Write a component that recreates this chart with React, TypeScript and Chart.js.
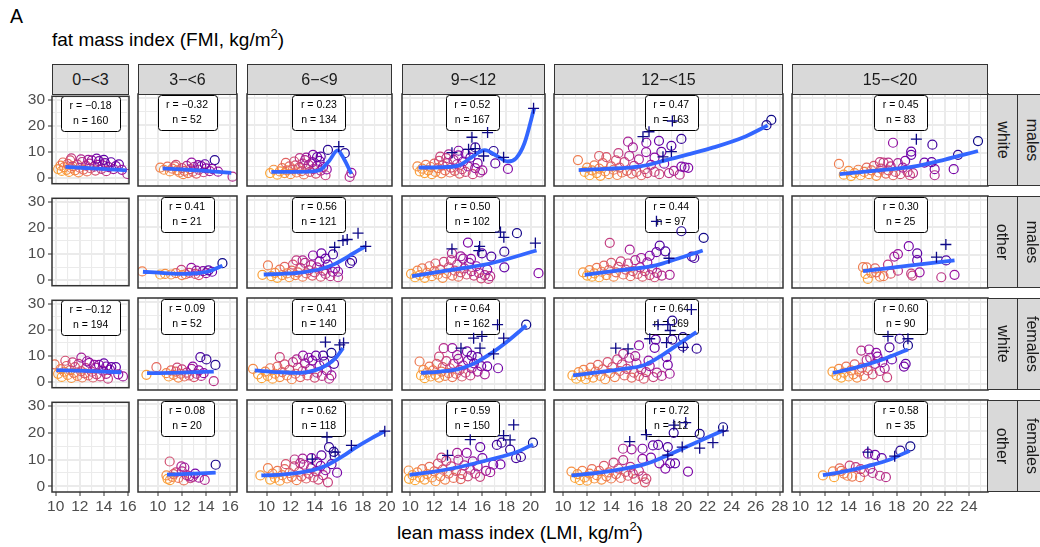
import React, { useEffect, useRef } from 'react';
import Chart from 'chart.js/auto';

const FONT = '"Liberation Sans", Arial, Helvetica, sans-serif';
Chart.defaults.font.family = FONT;

// ---------- facet labels ----------
const ageGroups = ['0−<3', '3−<6', '6−<9', '9−<12', '12−<15', '15−<20'];
const raceLabels = ['white', 'other', 'white', 'other'];
const sexLabels = ['males', 'males', 'females', 'females'];

// ---------- axis limits (free x per column, fixed y) ----------
const xMin = [9.69, 8.35, 8.38, 9.32, 9.25, 9.3];
const xMax = [16.09, 16.57, 20.42, 21.2, 28.27, 25.58];
const yMin = -2.1;
const yMax = 31.3;
const yTicks = [0, 5, 10, 15, 20, 25, 30];

// ---------- annotation labels ----------
const labelX = [12.9, 12.42, 14.35, 15.16, 18.98, 18.33];
const labelY = 24.6;
const rValues: (string | null)[][] = [
  ['−0.18', '−0.32', '0.23', '0.52', '0.47', '0.45'],
  [null, '0.41', '0.56', '0.50', '0.44', '0.30'],
  ['−0.12', '0.09', '0.41', '0.64', '0.64', '0.60'],
  [null, '0.08', '0.62', '0.59', '0.72', '0.58'],
];
const nValues: (number | null)[][] = [
  [160, 52, 134, 167, 163, 83],
  [null, 21, 121, 102, 97, 25],
  [194, 52, 140, 162, 169, 90],
  [null, 20, 118, 150, 112, 35],
];

// ---------- white males ----------
const wm03: number[][] = [[10.2,3.5],[10.4,4.8],[10.5,2.8],[10.7,4.2],[10.9,3.2],[11.0,5.5],[11.1,2.4],[11.3,3.9],[11.4,4.6],[11.6,3.0],[11.8,5.2],[11.9,2.2],[12.0,4.0],[12.2,6.2],[12.3,3.3],[12.5,4.8],[12.6,2.6],[12.8,5.6],[12.9,3.8],[13.0,6.8],[13.2,4.4],[13.3,2.9],[13.5,5.1],[13.6,6.5],[13.8,3.6],[13.9,4.9],[14.1,5.8],[14.2,2.7],[14.4,4.2],[14.6,6.1],[14.8,3.5],[15.0,4.6],[15.25,5.3],[15.5,3.2],[15.95,1.6],[12.1,7.2],[11.3,7.6],[12.7,7.0],[13.4,7.5],[11.2,6.8],[14.0,7.0],[10.6,6.0]];
const wm03Plus: number[][] = [];
const wm03Fit: number[][] = [[10.8,4.3],[12.5,3.9],[14.2,3.5],[15.9,3.0]];

const wm36: number[][] = [[10.2,4.6],[10.5,3.8],[10.8,4.9],[11.0,3.2],[11.2,4.2],[11.4,5.0],[11.6,3.6],[11.8,2.8],[12.0,4.4],[12.2,3.4],[12.4,5.2],[12.5,2.6],[12.7,4.0],[12.9,3.1],[13.0,4.8],[13.2,2.4],[13.4,3.8],[13.6,5.1],[13.8,2.9],[14.0,4.3],[14.3,3.3],[12.8,6.4],[13.35,5.5],[14.72,7.3],[15.0,3.1],[16.2,1.3],[11.5,5.6],[12.1,2.2],[13.9,5.8],[14.5,4.1]];
const wm36Plus: number[][] = [];
const wm36Fit: number[][] = [[10.4,4.3],[12.5,3.8],[14.5,3.2],[16.1,2.7]];

const wm69: number[][] = [[10.3,2.6],[10.6,3.8],[10.9,2.0],[11.1,3.2],[11.3,4.4],[11.5,2.6],[11.7,3.6],[11.9,5.0],[12.0,2.2],[12.2,3.9],[12.4,5.4],[12.5,2.8],[12.7,4.6],[12.9,3.3],[13.0,6.0],[13.1,2.1],[13.3,4.2],[13.5,5.6],[13.6,3.0],[13.8,6.6],[13.9,4.0],[14.1,2.4],[14.2,5.2],[14.4,7.0],[14.5,3.5],[14.7,4.8],[14.9,1.8],[15.0,3.9],[12.76,8.0],[13.3,8.2],[13.86,9.2],[14.2,8.4],[14.5,8.6],[15.1,11.0],[16.5,9.8],[17.05,2.7],[16.9,1.2],[11.6,6.3],[12.3,6.8],[13.2,7.3]];
const wm69Plus: number[][] = [[16.0,12.2]];
const wm69Fit: number[][] = [[10.4,3.0],[12.0,3.0],[13.5,3.1],[14.4,3.6],[15.2,7.0],[15.9,10.8],[16.4,8.0],[17.05,2.3]];

const wm912: number[][] = [[10.6,5.0],[10.8,3.2],[11.0,4.2],[11.2,2.6],[11.3,5.6],[11.5,3.6],[11.7,4.8],[11.8,2.2],[12.0,6.0],[12.1,3.0],[12.3,4.4],[12.4,7.0],[12.6,2.5],[12.7,5.4],[12.9,3.6],[13.0,8.0],[13.1,6.2],[13.3,2.8],[13.4,4.6],[13.6,7.4],[13.7,3.4],[13.9,5.8],[14.0,9.0],[14.1,2.4],[14.3,4.0],[14.4,6.8],[14.6,3.0],[14.8,5.0],[15.0,8.2],[15.2,2.2],[15.4,4.4],[15.6,6.2],[15.8,2.8],[16.0,3.6],[14.02,10.7],[15.41,11.9],[16.93,10.6],[17.07,6.1],[18.12,4.1],[13.2,9.4],[12.5,8.6],[14.6,9.6]];
const wm912Plus: number[][] = [[15.13,15.6],[16.43,17.3],[14.85,11.2],[15.4,11.5],[13.47,10.0],[16.1,8.8],[17.76,8.3],[20.25,26.1]];
const wm912Fit: number[][] = [[10.7,4.6],[12.5,4.7],[14.0,5.3],[15.0,8.0],[16.2,10.9],[17.2,8.8],[18.1,6.8],[18.8,8.0],[19.5,13.5],[20.3,26.1]];

const wm1215: number[][] = [[11.24,7.3],[11.8,3.0],[12.0,4.6],[12.2,1.8],[12.4,3.6],[12.6,5.4],[12.8,2.6],[13.0,4.2],[13.1,1.6],[13.3,6.2],[13.5,3.2],[13.6,8.4],[13.8,2.2],[14.0,5.0],[14.2,3.8],[14.4,7.2],[14.5,1.9],[14.7,4.6],[14.9,2.8],[15.1,6.6],[15.3,3.4],[15.5,8.8],[15.7,2.4],[15.9,5.2],[16.1,3.0],[16.3,7.6],[16.5,1.8],[16.8,4.0],[17.0,2.6],[17.3,5.6],[17.6,3.0],[18.0,2.2],[18.4,6.0],[18.8,2.6],[19.2,3.4],[19.69,2.0],[15.4,14.0],[16.92,13.6],[17.97,14.3],[19.83,15.0],[19.0,12.5],[18.17,10.3],[16.9,10.2],[15.8,11.9],[19.83,4.9],[20.1,4.7],[20.4,4.5],[27.3,21.9],[26.9,20.0],[14.6,9.8],[13.0,8.8],[17.6,8.2]];
const wm1215Plus: number[][] = [[19.08,21.5],[17.14,17.6],[16.64,15.8],[19.0,10.4],[18.3,8.5]];
const wm1215Fit: number[][] = [[11.3,3.7],[13.5,4.1],[16.4,5.0],[18.5,7.2],[20.5,9.5],[22.5,11.9],[25.0,15.6],[27.0,19.9]];

const wm1520: number[][] = [[13.2,5.9],[13.6,2.0],[14.0,3.4],[14.2,1.5],[14.5,2.6],[14.8,3.8],[15.0,1.8],[15.3,3.0],[15.5,4.6],[15.7,2.2],[15.9,3.6],[16.1,5.2],[16.3,1.6],[16.5,2.8],[16.7,4.2],[16.9,6.4],[17.1,2.4],[17.3,3.6],[17.5,5.0],[17.7,1.8],[17.9,3.0],[18.1,6.2],[18.3,2.2],[18.5,4.6],[18.7,7.0],[18.9,3.0],[19.1,1.8],[19.35,2.6],[17.3,6.4],[16.6,6.6],[17.69,13.6],[19.2,10.4],[19.2,9.2],[20.96,12.9],[23.09,9.2],[24.75,14.2],[21.15,4.0],[21.15,1.8],[22.73,4.0],[20.3,6.4],[20.9,6.6]];
const wm1520Plus: number[][] = [[19.63,14.9]];
const wm1520Fit: number[][] = [[13.25,2.2],[16.5,3.6],[19.35,4.9],[22.0,7.5],[24.75,10.6]];

// ---------- other males ----------
const om36: number[][] = [[8.7,3.9],[10.2,2.8],[10.6,3.0],[11.1,2.8],[11.5,3.3],[11.95,4.5],[12.3,2.9],[12.6,3.4],[12.78,5.2],[13.1,3.0],[13.4,2.6],[13.75,4.0],[14.0,3.3],[14.2,4.3],[14.5,3.8],[15.36,6.9],[12.0,2.6],[13.2,4.2]];
const om36Plus: number[][] = [];
const om36Fit: number[][] = [[8.76,3.8],[10.5,3.3],[12.0,3.0],[13.3,3.3],[14.2,3.9],[15.36,6.0]];

const om69: number[][] = [[9.66,2.7],[10.12,6.1],[10.4,2.2],[10.7,3.4],[10.9,1.6],[11.1,4.6],[11.3,2.6],[11.5,5.6],[11.7,3.2],[11.9,1.8],[12.1,4.2],[12.2,6.4],[12.4,2.6],[12.6,3.6],[12.8,5.2],[13.0,2.0],[13.2,7.0],[13.3,3.2],[13.5,4.4],[13.7,6.2],[13.8,2.4],[14.0,3.6],[14.2,5.4],[14.4,7.6],[14.5,2.0],[14.7,4.2],[14.9,3.0],[15.1,6.4],[15.3,2.2],[15.5,3.8],[15.7,5.0],[15.94,1.8],[12.48,7.9],[13.86,9.7],[14.56,10.5],[15.52,10.1],[15.94,3.8],[16.94,6.9],[17.1,7.8],[13.0,7.9],[14.9,8.6]];
const om69Plus: number[][] = [[15.66,12.7],[16.35,15.1],[16.7,15.5],[17.6,17.8],[18.24,13.0]];
const om69Fit: number[][] = [[9.77,2.8],[11.5,3.1],[13.0,3.6],[14.5,4.8],[15.5,6.3],[16.8,9.4],[18.2,13.0]];

const om912: number[][] = [[10.07,3.05],[10.4,1.8],[10.6,4.2],[10.8,2.6],[11.0,5.0],[11.2,1.6],[11.4,3.4],[11.6,5.8],[11.8,2.2],[12.0,4.0],[12.1,6.8],[12.3,2.8],[12.5,4.6],[12.7,1.6],[12.8,7.4],[13.0,3.2],[13.2,5.4],[13.4,8.0],[13.5,2.4],[13.7,4.2],[13.9,6.4],[14.0,2.0],[14.2,3.6],[14.4,8.6],[14.5,5.0],[14.7,2.8],[14.9,7.0],[15.1,4.0],[15.3,2.4],[15.5,5.8],[15.7,3.4],[15.9,1.4],[16.2,2.6],[16.5,1.2],[16.65,2.2],[16.4,4.6],[13.47,10.5],[14.8,14.4],[15.05,8.5],[15.96,10.5],[16.74,9.3],[17.82,11.1],[17.82,5.4],[18.87,17.8],[20.66,3.3],[14.2,9.4]];
const om912Plus: number[][] = [[13.47,12.1],[15.77,13.0],[15.7,11.5],[17.5,18.2],[17.78,16.3],[20.4,14.2]];
const om912Fit: number[][] = [[10.15,2.2],[13.0,4.2],[16.65,6.8],[20.5,11.5]];

const om1215: number[][] = [[11.66,3.6],[12.0,2.4],[12.2,4.4],[12.4,2.0],[12.6,3.2],[12.8,5.2],[13.0,1.8],[13.2,3.8],[13.4,6.0],[13.6,2.6],[13.8,4.4],[14.0,7.0],[14.2,2.0],[14.4,3.6],[14.6,5.6],[14.8,7.6],[15.0,2.8],[15.2,4.6],[15.4,6.8],[15.6,2.2],[15.8,4.0],[16.0,8.0],[16.2,3.0],[16.4,5.4],[16.6,2.0],[16.8,4.0],[17.0,7.2],[17.2,2.6],[17.4,4.8],[17.6,1.8],[17.8,3.4],[18.2,2.4],[18.86,2.7],[13.88,14.3],[15.54,11.8],[18.03,13.3],[19.83,18.5],[21.68,16.1],[20.7,9.3],[20.9,8.8],[17.76,10.9],[18.5,11.2],[17.2,9.6],[16.5,8.8]];
const om1215Plus: number[][] = [[17.76,22.1],[18.8,8.7]];
const om1215Fit: number[][] = [[11.8,2.7],[14.5,4.2],[17.7,6.1],[19.5,8.5],[21.6,11.5]];

const om1520: number[][] = [[15.2,5.45],[15.5,5.4],[15.4,3.0],[15.6,1.2],[15.9,3.4],[16.2,5.0],[16.6,2.0],[16.9,2.2],[17.27,6.4],[17.8,9.3],[18.1,10.2],[18.1,4.2],[19.0,13.1],[19.7,10.5],[19.7,8.0],[19.2,3.1],[19.3,2.4],[19.9,3.6],[21.7,1.8],[22.8,2.7],[22.1,7.9],[16.3,3.6],[17.5,3.1]];
const om1520Plus: number[][] = [[22.08,13.7],[21.3,9.1]];
const om1520Fit: number[][] = [[15.2,4.0],[19.0,6.0],[22.8,7.9]];

// ---------- white females ----------
const wf03: number[][] = [[9.91,6.8],[10.2,3.2],[10.4,5.0],[10.5,2.0],[10.7,4.0],[10.9,6.2],[11.0,2.8],[11.2,4.6],[11.3,1.6],[11.5,3.6],[11.6,5.8],[11.8,2.4],[11.9,7.0],[12.1,4.2],[12.13,9.4],[12.2,1.8],[12.4,3.4],[12.5,5.4],[12.7,2.6],[12.8,7.4],[13.0,4.0],[13.1,1.8],[13.3,5.6],[13.4,3.0],[13.6,6.6],[13.7,2.2],[13.9,4.4],[14.0,7.2],[14.2,3.2],[14.34,1.35],[14.5,4.8],[14.62,5.8],[15.0,5.8],[15.2,3.0],[15.59,2.2],[11.4,7.6],[12.6,8.0],[13.2,6.6],[14.2,6.0],[10.8,8.2]];
const wf03Plus: number[][] = [];
const wf03Fit: number[][] = [[10.05,4.6],[12.5,4.3],[15.45,3.8]];

const wf36: number[][] = [[9.05,3.4],[9.88,6.2],[10.7,4.0],[10.9,2.8],[11.1,5.0],[11.3,3.4],[11.5,4.6],[11.7,2.4],[11.9,3.8],[12.0,5.4],[12.2,2.8],[12.4,4.2],[12.6,3.2],[12.8,5.6],[13.0,2.6],[13.2,3.8],[13.4,5.0],[13.6,3.0],[13.8,4.0],[13.53,9.8],[14.03,9.0],[14.78,7.0],[14.64,1.1],[11.6,6.0],[12.9,6.4]];
const wf36Plus: number[][] = [];
const wf36Fit: number[][] = [[9.1,4.0],[12.0,4.2],[14.64,4.6]];

const wf69: number[][] = [[8.88,5.6],[9.3,3.6],[9.6,2.2],[9.9,4.6],[10.1,3.0],[10.3,5.8],[10.5,2.0],[10.7,3.8],[10.9,6.4],[11.1,2.6],[11.1,9.8],[11.3,4.4],[11.5,7.2],[11.7,3.2],[11.9,5.2],[12.1,1.8],[12.2,8.0],[12.4,3.8],[12.6,6.0],[12.8,2.6],[13.0,4.8],[13.03,10.4],[13.2,7.6],[13.4,3.2],[13.6,5.6],[13.8,8.6],[14.0,2.4],[14.1,10.4],[14.2,4.2],[14.4,6.8],[14.6,3.0],[14.7,10.4],[14.8,8.2],[15.0,5.0],[15.2,2.0],[15.39,3.2],[15.39,11.4],[13.5,9.6],[12.5,9.0],[15.6,7.4]];
const wf69Plus: number[][] = [[14.89,15.3],[16.08,14.3],[16.4,15.0]];
const wf69Fit: number[][] = [[9.02,5.0],[11.0,4.4],[12.76,4.1],[14.0,5.0],[15.0,6.9],[15.8,9.8],[16.35,13.1]];

const wf912: number[][] = [[10.78,8.24],[10.9,3.2],[11.1,5.2],[11.2,2.2],[11.4,4.2],[11.6,6.4],[11.7,2.8],[11.9,5.0],[12.1,3.4],[12.2,7.4],[12.4,2.4],[12.6,4.6],[12.7,6.2],[12.9,3.0],[13.0,8.4],[13.2,4.0],[13.3,5.8],[13.5,2.6],[13.6,7.4],[13.8,3.8],[14.0,9.2],[14.1,5.2],[14.3,2.8],[14.4,6.8],[14.6,4.2],[14.8,8.6],[15.0,3.2],[15.1,5.8],[15.3,7.6],[15.6,4.6],[15.9,6.6],[16.2,3.6],[16.4,6.5],[17.3,5.8],[12.78,13.1],[13.5,13.1],[14.72,11.9],[15.1,10.4],[15.6,9.8],[19.64,21.6],[13.9,10.6],[12.4,10.0]];
const wf912Plus: number[][] = [[17.26,21.6],[15.96,17.4],[15.27,16.7],[17.77,16.7],[14.22,13.1],[15.8,13.1],[16.93,11.0]];
const wf912Fit: number[][] = [[10.9,4.1],[12.5,4.6],[14.0,5.5],[15.2,7.3],[16.65,11.0],[18.2,16.0],[19.64,21.3]];

const wf1215: number[][] = [[10.78,3.2],[11.1,2.0],[11.3,4.4],[11.5,2.8],[11.7,5.2],[11.9,1.8],[12.1,3.6],[12.3,6.0],[12.5,2.4],[12.7,4.6],[12.9,7.0],[13.1,3.0],[13.3,5.4],[13.5,1.8],[13.7,8.0],[13.9,4.0],[14.1,6.2],[14.3,2.6],[14.5,9.0],[14.7,4.8],[14.9,7.2],[15.1,3.2],[15.3,5.6],[15.5,9.6],[15.7,2.4],[15.9,4.2],[16.1,7.6],[16.3,3.0],[16.5,5.4],[16.7,2.0],[16.9,4.4],[17.2,6.6],[17.5,2.6],[17.8,4.2],[18.2,3.0],[18.86,3.8],[16.31,14.1],[17.61,13.2],[17.7,16.2],[19.08,16.2],[19.08,23.1],[19.96,17.1],[19.96,13.7],[21.1,12.9],[18.59,9.8],[18.7,7.0],[17.1,8.6],[15.0,11.0],[16.0,10.2]];
const wf1215Plus: number[][] = [[20.66,27.1],[17.89,21.6],[18.7,21.6],[17.2,16.5],[14.38,13.1],[15.4,12.8],[18.6,15.1],[20.0,13.4],[18.9,19.5]];
const wf1215Fit: number[][] = [[10.83,3.2],[13.0,4.4],[15.0,5.6],[16.64,6.8],[18.0,9.9],[19.5,14.3],[21.08,18.9]];

const wf1520: number[][] = [[12.66,4.6],[13.0,3.2],[13.2,5.6],[13.4,2.4],[13.6,4.2],[13.8,6.4],[14.0,2.8],[14.2,5.0],[14.4,3.6],[14.5,7.2],[14.7,2.4],[14.9,4.6],[15.06,12.2],[15.1,6.0],[15.3,3.0],[15.5,8.8],[15.7,12.6],[15.6,5.0],[15.8,9.6],[16.0,3.6],[16.2,7.4],[16.4,10.0],[16.6,4.8],[16.8,8.0],[17.0,5.8],[17.2,2.5],[17.4,13.4],[17.6,9.0],[18.24,16.5],[18.93,14.1],[18.74,7.4],[18.6,6.4],[16.3,11.4]];
const wf1520Plus: number[][] = [[17.27,17.4],[18.93,16.5]];
const wf1520Fit: number[][] = [[12.7,4.1],[14.6,6.0],[16.58,8.6],[18.93,12.6]];

// ---------- other females ----------
const of36: number[][] = [[10.71,3.9],[10.8,2.7],[10.98,8.97],[11.2,3.4],[11.5,5.0],[11.7,3.0],[11.95,7.2],[12.2,6.8],[12.15,2.1],[12.4,4.0],[12.6,3.6],[12.9,3.4],[13.1,4.6],[13.89,2.3],[14.8,7.8],[11.3,4.4],[12.0,5.4],[12.7,2.9],[13.4,3.1],[11.0,2.2]];
const of36Plus: number[][] = [];
const of36Fit: number[][] = [[10.76,4.2],[12.5,4.5],[14.8,4.9]];

const of69: number[][] = [[9.49,3.9],[10.12,6.6],[10.3,2.4],[10.5,4.6],[10.7,3.0],[10.9,5.6],[11.1,2.0],[11.3,4.0],[11.5,6.2],[11.7,2.8],[11.9,4.8],[12.1,3.4],[12.3,7.2],[12.5,2.2],[12.7,5.2],[12.9,3.6],[13.1,7.8],[13.3,2.8],[13.5,4.6],[13.7,6.6],[13.9,3.2],[14.1,5.4],[14.3,2.4],[14.5,7.4],[14.7,4.0],[15.1,1.4],[14.9,5.8],[12.34,9.7],[13.0,10.0],[13.73,10.2],[14.56,11.2],[15.19,14.2],[15.58,12.5],[15.66,10.9],[15.4,8.0],[15.86,4.9],[12.8,8.4],[11.6,8.0],[14.2,8.8]];
const of69Plus: number[][] = [[15.02,17.8],[17.05,14.8],[19.82,20.0],[15.7,12.4],[13.8,9.8]];
const of69Fit: number[][] = [[9.57,3.9],[11.2,4.2],[12.76,4.9],[14.0,6.0],[14.97,7.5],[16.3,10.8],[17.46,14.2],[18.7,17.4],[19.82,20.0]];

const of912: number[][] = [[9.87,5.7],[9.9,2.7],[10.2,4.0],[10.4,2.2],[10.6,5.0],[10.8,3.2],[11.0,6.2],[11.2,2.4],[11.4,4.4],[11.6,7.0],[11.8,3.2],[12.0,5.4],[12.1,1.8],[12.3,8.2],[12.5,3.6],[12.7,6.0],[12.9,2.4],[13.0,9.2],[13.2,4.6],[13.4,7.2],[13.6,3.0],[13.8,5.6],[13.9,12.1],[14.0,9.6],[14.2,2.6],[14.3,4.4],[14.5,7.6],[14.7,12.1],[14.8,3.6],[15.0,6.0],[15.2,9.0],[15.4,4.6],[15.6,7.2],[15.82,14.2],[15.8,3.4],[16.0,10.2],[16.3,5.6],[16.65,5.1],[16.9,7.8],[17.2,15.0],[17.5,7.9],[17.6,15.8],[18.3,13.3],[18.8,10.2],[19.2,10.6],[20.2,15.8],[12.6,10.4]];
const of912Plus: number[][] = [[18.6,22.3],[14.99,16.9],[17.76,18.4],[18.3,16.8],[13.1,11.2]];
const of912Fit: number[][] = [[9.95,4.1],[12.0,5.3],[13.9,6.8],[16.65,9.7],[18.8,12.3],[20.2,15.2]];

const of1215: number[][] = [[10.7,5.3],[11.0,3.0],[11.2,4.4],[11.4,2.2],[11.6,5.6],[11.8,3.2],[12.0,2.0],[12.2,4.6],[12.4,6.2],[12.6,2.8],[12.8,4.0],[13.0,5.6],[13.2,2.4],[13.4,7.4],[13.6,3.6],[13.8,5.0],[14.0,2.8],[14.2,8.6],[14.4,4.4],[14.6,6.4],[14.8,3.0],[15.0,9.5],[15.2,5.2],[15.4,3.8],[15.6,7.0],[15.8,4.6],[16.0,2.6],[16.3,5.6],[16.6,9.9],[16.6,3.6],[16.8,1.4],[16.92,2.7],[14.98,13.6],[15.7,13.4],[16.6,13.6],[17.47,14.8],[17.9,15.0],[18.7,14.2],[19.19,19.4],[21.35,19.0],[23.29,21.4],[18.0,8.3],[18.5,6.4],[18.9,8.3],[19.3,8.3],[20.38,5.3],[17.3,10.4]];
const of1215Plus: number[][] = [[20.19,23.1],[19.2,22.2],[16.92,18.7],[15.54,16.2],[19.9,14.2],[21.35,13.8],[22.45,15.8],[23.3,20.1],[18.7,11.3]];
const of1215Fit: number[][] = [[10.7,3.9],[13.0,4.9],[14.98,6.3],[16.8,8.0],[18.3,10.5],[20.5,14.8],[23.29,20.2]];

const of1520: number[][] = [[11.87,3.9],[12.7,5.4],[12.8,3.3],[13.26,6.5],[13.6,4.6],[13.9,3.8],[14.09,7.5],[14.3,3.5],[14.6,6.9],[14.95,3.3],[15.3,5.2],[15.61,11.8],[16.2,11.4],[16.75,10.2],[15.8,6.4],[16.0,4.8],[16.6,3.8],[17.1,3.3],[18.3,12.9],[19.13,14.5],[13.4,5.6],[15.0,6.2]];
const of1520Plus: number[][] = [[15.6,12.4],[17.83,10.9]];
const of1520Fit: number[][] = [[11.87,4.0],[13.8,5.5],[15.75,7.5],[17.5,9.8],[19.07,12.9]];

// ---------- facet grids ----------
const circleGrid: (number[][] | null)[][] = [
  [wm03, wm36, wm69, wm912, wm1215, wm1520],
  [null, om36, om69, om912, om1215, om1520],
  [wf03, wf36, wf69, wf912, wf1215, wf1520],
  [null, of36, of69, of912, of1215, of1520],
];
const plusGrid: (number[][] | null)[][] = [
  [wm03Plus, wm36Plus, wm69Plus, wm912Plus, wm1215Plus, wm1520Plus],
  [null, om36Plus, om69Plus, om912Plus, om1215Plus, om1520Plus],
  [wf03Plus, wf36Plus, wf69Plus, wf912Plus, wf1215Plus, wf1520Plus],
  [null, of36Plus, of69Plus, of912Plus, of1215Plus, of1520Plus],
];
const fitGrid: (number[][] | null)[][] = [
  [wm03Fit, wm36Fit, wm69Fit, wm912Fit, wm1215Fit, wm1520Fit],
  [null, om36Fit, om69Fit, om912Fit, om1215Fit, om1520Fit],
  [wf03Fit, wf36Fit, wf69Fit, wf912Fit, wf1215Fit, wf1520Fit],
  [null, of36Fit, of69Fit, of912Fit, of1215Fit, of1520Fit],
];

// ---------- layout (pixels) ----------
const colLeft = [52, 138, 247, 402, 554, 792];
const colWidth = [77, 99, 145, 143, 229, 196];
const rowTop = [94, 196, 298, 400];
const rowH = 92;
const PAD = 10;
const YAXIS_W = 44;
const XAXIS_H = 26;

// ---------- colours ----------
const plasmaStops = ['#0D0887','#41049D','#6A00A8','#8F0DA4','#B12A90','#CC4778','#E16462','#F2844B','#FCA636','#FCCE25','#F0F921'];
function hexToRgb(h: string) {
  return [parseInt(h.slice(1, 3), 16), parseInt(h.slice(3, 5), 16), parseInt(h.slice(5, 7), 16)];
}
function plasma(v: number) {
  const p = Math.max(0, Math.min(1, v)) * 10;
  const i = Math.min(9, Math.floor(p));
  const f = p - i;
  const a = hexToRgb(plasmaStops[i]);
  const b = hexToRgb(plasmaStops[i + 1]);
  const m = a.map((av, k) => Math.round(av + (b[k] - av) * f));
  return `rgb(${m[0]},${m[1]},${m[2]})`;
}
function rankOf(vals: number[]) {
  const idx = vals.map((v, i) => i).sort((a, b) => vals[a] - vals[b]);
  const r = new Array(vals.length).fill(0);
  idx.forEach((k, pos) => { r[k] = vals.length > 1 ? pos / (vals.length - 1) : 0.5; });
  return r;
}
function pointColors(pts: number[][]) {
  const rx = rankOf(pts.map((p) => p[0]));
  const ry = rankOf(pts.map((p) => p[1]));
  return pts.map((p, i) => {
    const t = 0.6 * rx[i] + 0.4 * ry[i];
    return plasma(0.82 * (1 - Math.pow(t, 1.35)));
  });
}

function roundRectPath(ctx: CanvasRenderingContext2D, x: number, y: number, w: number, h: number, r: number) {
  ctx.beginPath();
  ctx.moveTo(x + r, y);
  ctx.lineTo(x + w - r, y);
  ctx.arcTo(x + w, y, x + w, y + r, r);
  ctx.lineTo(x + w, y + h - r);
  ctx.arcTo(x + w, y + h, x + w - r, y + h, r);
  ctx.lineTo(x + r, y + h);
  ctx.arcTo(x, y + h, x, y + h - r, r);
  ctx.lineTo(x, y + r);
  ctx.arcTo(x, y, x + r, y, r);
  ctx.closePath();
}

function makeConfig(r: number, c: number): any {
  const pts = circleGrid[r][c] || [];
  const plus = plusGrid[r][c] || [];
  const fit = fitGrid[r][c] || [];
  const colors = pointColors(pts);
  const isLeft = c === 0;
  const isBottom = r === 3;
  const rv = rValues[r][c];
  const nv = nValues[r][c];

  const decor = {
    id: 'decor',
    beforeDatasetsDraw(chart: any) {
      if (rv === null || nv === null) return;
      const { ctx, scales } = chart;
      const cx = scales.x.getPixelForValue(labelX[c]);
      const cy = scales.y.getPixelForValue(labelY);
      const l1 = 'r = ' + rv;
      const l2 = 'n = ' + nv;
      ctx.save();
      ctx.font = `10.5px ${FONT}`;
      const w = Math.max(ctx.measureText(l1).width, ctx.measureText(l2).width) + 17;
      const h = 35;
      roundRectPath(ctx, Math.round(cx - w / 2) + 0.5, Math.round(cy - h / 2) + 0.5, Math.round(w), h, 3);
      ctx.fillStyle = '#FFFFFF';
      ctx.fill();
      ctx.strokeStyle = '#000000';
      ctx.lineWidth = 1;
      ctx.stroke();
      ctx.fillStyle = '#000000';
      ctx.textAlign = 'center';
      ctx.textBaseline = 'middle';
      ctx.fillText(l1, cx, cy - 7.5);
      ctx.fillText(l2, cx, cy + 7.5);
      ctx.restore();
    },
    afterDraw(chart: any) {
      const { ctx, chartArea } = chart;
      ctx.save();
      ctx.strokeStyle = '#333333';
      ctx.lineWidth = 1.5;
      ctx.strokeRect(chartArea.left, chartArea.top, chartArea.right - chartArea.left, chartArea.bottom - chartArea.top);
      ctx.restore();
    },
  };

  const gridColor = '#EBEBEB';
  return {
    type: 'scatter',
    data: {
      datasets: [
        {
          data: plus.map(([x, y]) => ({ x, y })),
          pointStyle: 'cross',
          pointRadius: 5.5,
          pointBorderColor: '#0D0887',
          pointBackgroundColor: '#0D0887',
          pointBorderWidth: 1.3,
          showLine: false,
          clip: 0,
        },
        {
          data: fit.map(([x, y]) => ({ x, y })),
          showLine: true,
          borderColor: '#3366FF',
          borderWidth: 3.8,
          pointRadius: 0,
          cubicInterpolationMode: 'monotone',
          fill: false,
          clip: 0,
        },
        {
          data: pts.map(([x, y]) => ({ x, y })),
          pointStyle: 'circle',
          pointRadius: 4.5,
          pointBorderWidth: 1.2,
          pointBorderColor: colors,
          pointBackgroundColor: 'rgba(0,0,0,0)',
          showLine: false,
          clip: 0,
        },
      ],
    },
    options: {
      responsive: false,
      animation: false,
      devicePixelRatio: 1,
      events: [],
      layout: { padding: PAD },
      plugins: { legend: { display: false }, tooltip: { enabled: false } },
      scales: {
        x: {
          type: 'linear',
          min: xMin[c],
          max: xMax[c],
          afterBuildTicks: (s: any) => {
            const t = [];
            for (let v = Math.ceil(xMin[c]); v <= Math.floor(xMax[c]); v++) t.push({ value: v });
            s.ticks = t;
          },
          afterFit: (s: any) => { s.height = isBottom ? XAXIS_H : 0; },
          ticks: {
            display: isBottom,
            autoSkip: false,
            maxRotation: 0,
            padding: 1,
            color: '#4D4D4D',
            font: { size: 15.5, family: FONT },
            callback: (v: number) => (Math.round(v) % 2 === 0 ? String(v) : ''),
          },
          grid: {
            color: gridColor,
            lineWidth: (ctx: any) => (ctx.tick && Math.round(ctx.tick.value) % 2 === 0 ? 2 : 1.1),
            drawTicks: isBottom,
            tickLength: 4,
            tickWidth: 1,
            tickColor: (ctx: any) => (ctx.tick && Math.round(ctx.tick.value) % 2 === 0 ? '#333333' : 'rgba(0,0,0,0)'),
          },
          border: { display: false },
        },
        y: {
          type: 'linear',
          min: yMin,
          max: yMax,
          afterBuildTicks: (s: any) => { s.ticks = yTicks.map((v) => ({ value: v })); },
          afterFit: (s: any) => { s.width = isLeft ? YAXIS_W : 0; },
          ticks: {
            display: isLeft,
            autoSkip: false,
            padding: 3,
            color: '#4D4D4D',
            font: { size: 15.5, family: FONT },
            callback: (v: number) => (v % 10 === 0 ? String(v) : ''),
          },
          grid: {
            color: gridColor,
            lineWidth: (ctx: any) => (ctx.tick && ctx.tick.value % 10 === 0 ? 2 : 1.1),
            drawTicks: isLeft,
            tickLength: 4,
            tickWidth: 1,
            tickColor: (ctx: any) => (ctx.tick && ctx.tick.value % 10 === 0 ? '#333333' : 'rgba(0,0,0,0)'),
          },
          border: { display: false },
        },
      },
    },
    plugins: [decor],
  };
}

function Panel({ r, c }: { r: number; c: number }) {
  const ref = useRef<HTMLCanvasElement | null>(null);
  const extraL = c === 0 ? YAXIS_W : 0;
  const extraB = r === 3 ? XAXIS_H : 0;
  const w = colWidth[c] + 2 * PAD + extraL;
  const h = rowH + 2 * PAD + extraB;
  const left = colLeft[c] - PAD - extraL;
  const top = rowTop[r] - PAD;
  useEffect(() => {
    if (!ref.current) return;
    const chart = new Chart(ref.current, makeConfig(r, c));
    return () => chart.destroy();
  }, [r, c]);
  return (
    <canvas
      ref={ref}
      width={w}
      height={h}
      style={{ position: 'absolute', left, top, width: w, height: h }}
    />
  );
}

const stripStyle: React.CSSProperties = {
  position: 'absolute',
  boxSizing: 'border-box',
  background: '#D9D9D9',
  border: '1px solid #333333',
  display: 'flex',
  alignItems: 'center',
  justifyContent: 'center',
  fontSize: 16,
  color: '#1A1A1A',
  whiteSpace: 'nowrap',
};

export default function App() {
  const rows = [0, 1, 2, 3];
  const cols = [0, 1, 2, 3, 4, 5];
  return (
    <div
      style={{
        position: 'absolute',
        left: 0,
        top: 0,
        width: 1040,
        height: 547,
        overflow: 'hidden',
        background: '#FFFFFF',
        fontFamily: FONT,
        color: '#000',
      }}
    >
      <div style={{ position: 'absolute', left: 10, top: 7, fontSize: 19.5, lineHeight: 1 }}>A</div>
      <div style={{ position: 'absolute', left: 52, top: 30, fontSize: 19, lineHeight: 1, whiteSpace: 'nowrap' }}>
        fat mass index (FMI, kg/m<span style={{ fontSize: 13, position: 'relative', top: -8, lineHeight: 0 }}>2</span>)
      </div>
      <div
        style={{
          position: 'absolute',
          left: 52,
          width: 936,
          top: 523,
          fontSize: 19,
          lineHeight: 1,
          textAlign: 'center',
          whiteSpace: 'nowrap',
        }}
      >
        lean mass index (LMI, kg/m<span style={{ fontSize: 13, position: 'relative', top: -8, lineHeight: 0 }}>2</span>)
      </div>

      {rows.map((r) => cols.map((c) => <Panel key={`p${r}-${c}`} r={r} c={c} />))}

      {ageGroups.map((g, c) => (
        <div key={`s${c}`} style={{ ...stripStyle, left: colLeft[c], top: 64, width: colWidth[c], height: 31 }}>
          {g}
        </div>
      ))}
      {rows.map((r) => (
        <div key={`race${r}`} style={{ ...stripStyle, left: 987, top: rowTop[r], width: 31, height: rowH }}>
          <span style={{ transform: 'rotate(90deg)', display: 'inline-block' }}>{raceLabels[r]}</span>
        </div>
      ))}
      {rows.map((r) => (
        <div key={`sex${r}`} style={{ ...stripStyle, left: 1017, top: rowTop[r], width: 31, height: rowH }}>
          <span style={{ transform: 'rotate(90deg)', display: 'inline-block' }}>{sexLabels[r]}</span>
        </div>
      ))}
    </div>
  );
}
